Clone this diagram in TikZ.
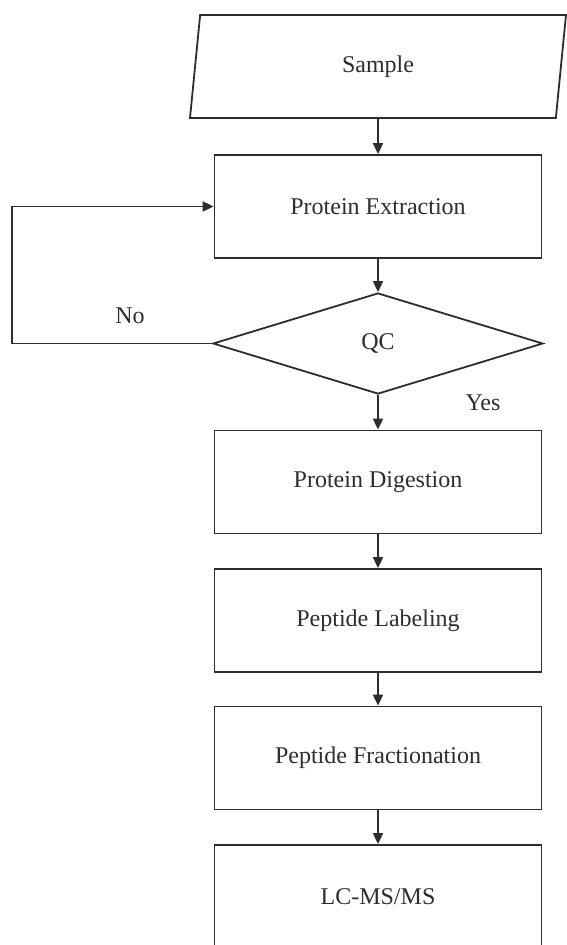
\documentclass[tikz,border=0pt]{standalone}
\usepackage{fontspec}
\setmainfont{Liberation Serif}
\usetikzlibrary{arrows.meta, shapes.geometric}
\definecolor{flowgray}{RGB}{45,45,45}

\begin{document}
\begin{tikzpicture}[
    x=1pt, y=-1pt,
    every node/.style={text=flowgray,font=\fontsize{24}{28}\selectfont},
    box/.style={draw=flowgray,line width=1.8pt,minimum width=327pt,
                minimum height=103pt,inner sep=0pt},
    inbox/.style={draw=flowgray,line width=1.8pt,trapezium,
                  trapezium left angle=65,trapezium right angle=115,
                  trapezium stretches body=true,
                  minimum width=376pt,minimum height=103pt,inner sep=0pt},
    check/.style={draw=flowgray,line width=1.8pt,diamond,
                  minimum width=330pt,minimum height=101pt,inner sep=0pt},
    arr/.style={-{Triangle[length=11pt,width=10pt]},line width=1.8pt,flowgray}
]
  \useasboundingbox (0,0) rectangle (566,945);

  % Input
  \node[inbox] (sample) at (378,66.5) {Sample};

  % Main steps
  \node[box] (extract) at (378,206.5) {Protein Extraction};
  \node[check] (qc) at (378,343.5) {QC};
  \node[box] (digest) at (378,482) {Protein Digestion};
  \node[box] (label) at (378,620.5) {Peptide Labeling};
  \node[box] (fraction) at (378,758) {Peptide Fractionation};
  \node[box] (lcms) at (378,896.5) {LC-MS/MS};

  % Arrows
  \draw[arr] (sample) -- (extract);
  \draw[arr] (extract) -- (qc);
  \draw[arr] (qc) -- (digest);
  \draw[arr] (digest) -- (label);
  \draw[arr] (label) -- (fraction);
  \draw[arr] (fraction) -- (lcms);

  % Loop back when QC fails
  \coordinate (back) at (12,343.5);
  \draw[arr] (qc.west) -- (back) |- (extract.west);

  % Branch labels
  \node (no) at (130,316) {No};
  \node (yes) at (483,403) {Yes};
\end{tikzpicture}
\end{document}
